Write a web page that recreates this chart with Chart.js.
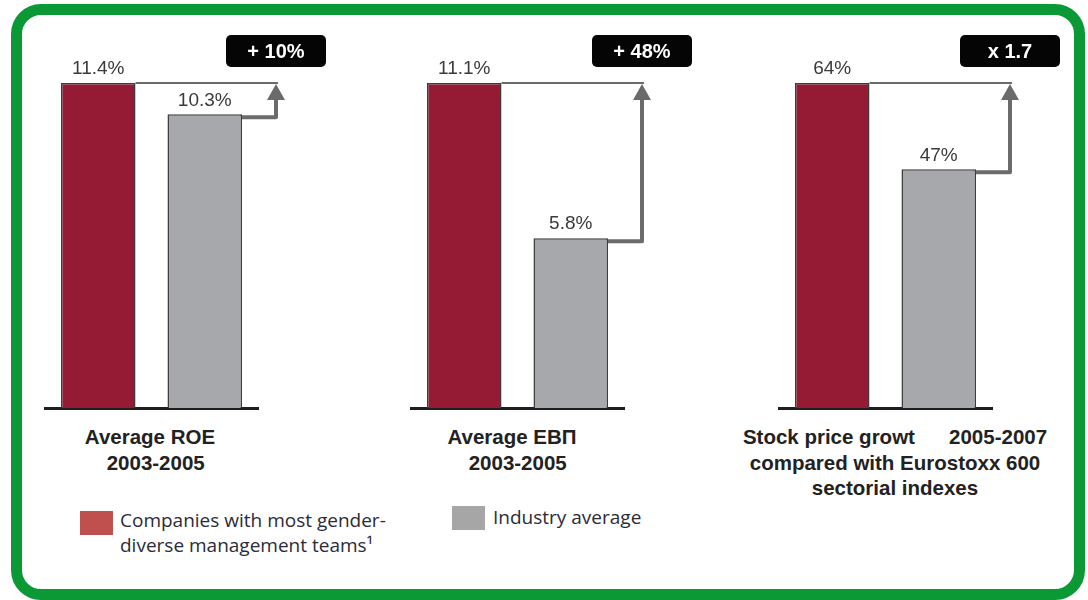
<!DOCTYPE html>
<html>
<head>
<meta charset="utf-8">
<script src="https://cdn.jsdelivr.net/npm/chart.js@4.4.1/dist/chart.umd.min.js"></script>
<style>
  html, body { margin: 0; padding: 0; background: #fff; }
  body { width: 1088px; height: 600px; position: relative; overflow: hidden; font-family: "Liberation Sans", Arial, sans-serif; }
  .frame { position: absolute; left: 11px; top: 4px; width: 1074px; height: 596px; box-sizing: border-box;
           border: 11px solid #0b9936; border-radius: 30px; }
  .panel { position: absolute; top: 0; width: 320px; height: 420px; }
  .title { position: absolute; font-weight: bold; font-size: 20.5px; color: #222; text-align: center; line-height: 25.5px; white-space: pre; }
  .legend { position: absolute; font-family: "Open Sans", sans-serif; font-size: 19px; color: #2b2b3a; line-height: 25px; }
  .swatch { position: absolute; }
</style>
</head>
<body>
<div class="frame"></div>

<div class="panel" style="left:30px"><canvas id="roeChart"></canvas></div>
<div class="panel" style="left:396px"><canvas id="ebitChart"></canvas></div>
<div class="panel" style="left:764px"><canvas id="stockChart"></canvas></div>

<div class="title" style="left:40px; top:424px; width:220px;">Average ROE
  2003-2005</div>
<div class="title" style="left:400px; top:424px; width:224px;">Average EBП
  2003-2005</div>
<div class="title" style="left:705px; top:424px; width:380px;">Stock price growt      2005-2007
compared with Eurostoxx 600
sectorial indexes</div>

<div class="swatch" style="left:80px; top:511px; width:33px; height:24px; background:#c0504d;"></div>
<div class="legend" style="left:120px; top:508px;">Companies with most gender-<br>diverse management teams¹</div>
<div class="swatch" style="left:452px; top:506px; width:33px; height:24px; background:#a6a6a6;"></div>
<div class="legend" style="left:493px; top:505px;">Industry average</div>

<script>
// series: [companies with most gender-diverse teams, industry average]
const seriesNames = ['Companies with most gender-diverse management teams', 'Industry average'];
const roeValues = [11.4, 10.3];
const ebitValues = [11.1, 5.8];
const stockValues = [64, 47];
const valueLabels = [['11.4%', '10.3%'], ['11.1%', '5.8%'], ['64%', '47%']];
const badgeLabels = ['+ 10%', '+ 48%', 'x 1.7'];

const barColors = ['#951a34', '#a7a8ab'];

// Labels, top line, arrow and badge drawn on each chart
const annotatePlugin = {
    id: 'annotate',
    afterDatasetsDraw(chart, args, opts) {
        const ctx = chart.ctx;
        const bars = chart.getDatasetMeta(0).data;
        const red = bars[0], gray = bars[1];
        const area = chart.chartArea;
        const arrowX = area.right + 18;

        ctx.save();
        // value labels
        ctx.fillStyle = '#3a3a3a';
        ctx.font = '19px "Liberation Sans", Arial, sans-serif';
        ctx.textAlign = 'center';
        ctx.textBaseline = 'middle';
        ctx.fillText(opts.labels[0], red.x, red.y - 14);
        ctx.fillText(opts.labels[1], gray.x, gray.y - 14);

        // thin line continuing the top of the first bar
        ctx.strokeStyle = '#3a3a3a';
        ctx.lineWidth = 1.5;
        ctx.beginPath();
        ctx.moveTo(red.x + red.width / 2, red.y);
        ctx.lineTo(arrowX + 2, red.y);
        ctx.stroke();

        // elbow arrow from second bar up to first bar level
        ctx.strokeStyle = '#6b6b6b';
        ctx.fillStyle = '#6b6b6b';
        ctx.lineWidth = 4;
        ctx.lineJoin = 'round';
        ctx.beginPath();
        ctx.moveTo(gray.x + gray.width / 2, gray.y + 3);
        ctx.lineTo(arrowX, gray.y + 3);
        ctx.lineTo(arrowX, red.y + 14);
        ctx.stroke();
        ctx.beginPath();
        ctx.moveTo(arrowX, red.y + 1);
        ctx.lineTo(arrowX + 9, red.y + 17);
        ctx.lineTo(arrowX - 9, red.y + 17);
        ctx.closePath();
        ctx.fill();

        // badge
        const bw = 100, bh = 32, by = red.y - 48;
        ctx.fillStyle = '#050505';
        ctx.beginPath();
        ctx.roundRect(arrowX - bw / 2, by, bw, bh, 5);
        ctx.fill();
        ctx.fillStyle = '#ffffff';
        ctx.font = 'bold 20px "Liberation Sans", Arial, sans-serif';
        ctx.fillText(opts.badge, arrowX, by + bh / 2 + 1);
        ctx.restore();
    }
};

function makeChart(id, values, labels, badge) {
    return new Chart(document.getElementById(id), {
        type: 'bar',
        data: {
            labels: seriesNames,
            datasets: [{
                data: values,
                backgroundColor: barColors,
                borderColor: '#3c3c3c',
                borderWidth: 1.5,
                categoryPercentage: 1,
                barPercentage: 0.7
            }]
        },
        options: {
            responsive: true,
            maintainAspectRatio: false,
            animation: false,
            layout: { padding: { top: 83, bottom: 12, left: 15, right: 92 } },
            scales: {
                x: {
                    grid: { display: false, drawTicks: false },
                    ticks: { display: false },
                    border: { display: true, color: '#1e1e1e', width: 3 }
                },
                y: {
                    display: false,
                    min: 0,
                    max: values[0]
                }
            },
            plugins: {
                legend: { display: false },
                tooltip: { enabled: false },
                annotate: { labels: labels, badge: badge }
            }
        },
        plugins: [annotatePlugin]
    });
}

const roeChart = makeChart('roeChart', roeValues, valueLabels[0], badgeLabels[0]);
const ebitChart = makeChart('ebitChart', ebitValues, valueLabels[1], badgeLabels[1]);
const stockChart = makeChart('stockChart', stockValues, valueLabels[2], badgeLabels[2]);
</script>
</body>
</html>
